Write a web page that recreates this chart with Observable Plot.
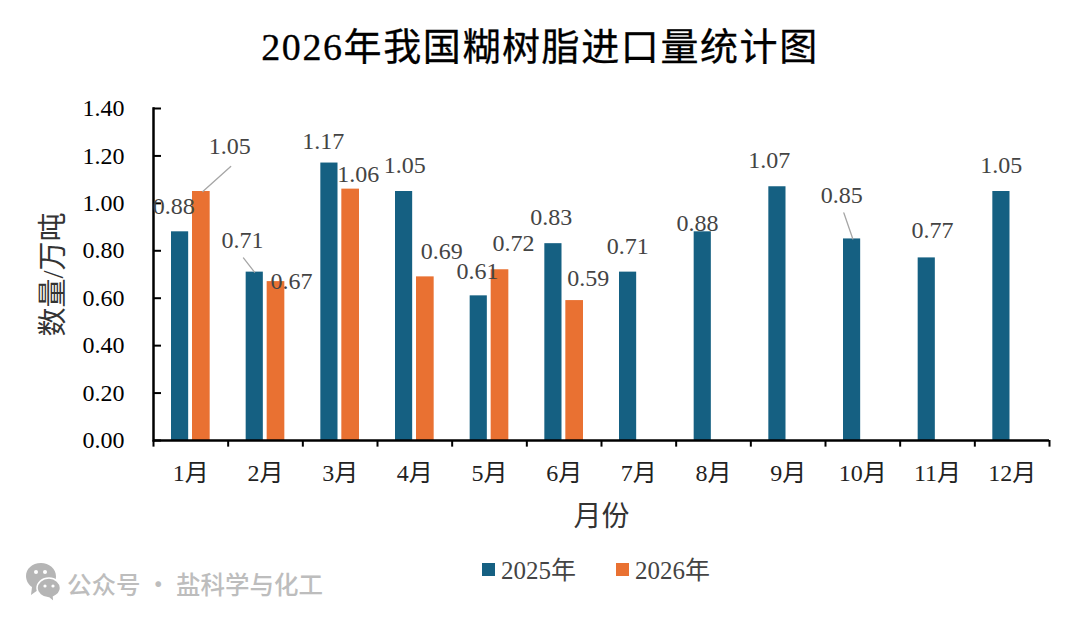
<!DOCTYPE html>
<html><head><meta charset="utf-8">
<script src="https://cdn.jsdelivr.net/npm/d3@7"></script>
<script src="https://cdn.jsdelivr.net/npm/@observablehq/plot@0.6"></script>
<style>
html,body{margin:0;padding:0;background:#fff;width:1080px;height:631px;overflow:hidden;position:relative}
#title{position:absolute;left:0;width:1080px;top:16px;text-align:center;font:38px "Liberation Serif","Noto Sans CJK SC";color:#000;letter-spacing:1.6px;-webkit-text-stroke:.3px #000}
#chart{position:absolute;left:0;top:0}
.lg{position:absolute;top:550px;font:25px "Liberation Serif","Noto Sans CJK SC";color:#444;white-space:nowrap}
.key{position:absolute;top:563px;width:13px;height:13px}
#wm{position:absolute;left:67px;top:566px;font:500 24.5px "Noto Sans CJK SC";color:#bdbdbd;white-space:nowrap}
#icon{position:absolute;left:25px;top:561px}
</style></head><body>
<div id="chart"></div>
<div id="title">2026年我国糊树脂进口量统计图</div>
<div class="key" style="left:482px;background:#156082"></div><div class="lg" style="left:501px">2025年</div>
<div class="key" style="left:616px;background:#E97132"></div><div class="lg" style="left:635px">2026年</div>
<svg id="icon" width="38" height="44" viewBox="0 0 38 44"><path d="M16 2C7 2 1 8 1 15c0 5 3 9 6 11l-1 8 7-5c1 0 2 .5 3 .5 8 0 15-6 15-14S24 2 16 2z" fill="#b5b5b5"/><path d="M24 17c-7 0-12 5-12 10s5 10 12 10l5 4-.5-5c4-2 7-5 7-9 0-5-5-10-11.500-10z" fill="#b5b5b5" stroke="#fff" stroke-width="1.500"/><circle cx="11" cy="11" r="2" fill="#fff"/><circle cx="20" cy="11" r="2" fill="#fff"/><circle cx="20" cy="25" r="1.600" fill="#fff"/><circle cx="28" cy="25" r="1.600" fill="#fff"/></svg>
<div id="wm">公众号 · 盐科学与化工</div>
<script>
const months=["1月","2月","3月","4月","5月","6月","7月","8月","9月","10月","11月","12月"];
const y2025=[0.88,0.71,1.17,1.05,0.61,0.83,0.71,0.88,1.07,0.85,0.77,1.05];
const y2026=[1.05,0.67,1.06,0.69,0.72,0.59];
const yTicks=[0,0.2,0.4,0.6,0.8,1.0,1.2,1.4];
const rows25=y2025.map((v,i)=>({m:months[i],s:"2025年",v}));
const rows26=y2026.map((v,i)=>({m:months[i],s:"2026年",v}));
const font='"Liberation Serif","Noto Sans CJK SC",serif';
const off25=[[-17,-26],[-23,-32],[-17,-22],[-10,-26],[-12,-25],[-13,-26],[-11,-26],[-16,-9],[-19,-26],[-21,-44],[-5,-28],[-11,-26]];
const off26=[[39,-45],[26,0],[18,-15],[27,-26],[24,-26],[24,-22]];
const labels=(rows,off)=>rows.map((d,i)=>Plot.text([d],{x:"m",y:"v",text:d=>d.v.toFixed(2),dx:off[i][0],dy:off[i][1],fontSize:24,fill:"#444"}));
const lineShape={draw(c,l){c.moveTo(0,0);c.lineTo(0,-l);}};
const leader=(d,dx,length,rotate)=>Plot.vector([d],{x:"m",y:"v",dx,length,rotate,anchor:"start",shape:lineShape,stroke:"#a6a6a6",strokeWidth:1.3});
const step=(1080-153-31)/12;
const p=Plot.plot({width:1080,height:631,marginLeft:153,marginRight:31,marginTop:108,marginBottom:191,
 style:{fontFamily:font,fontSize:"24px",background:"transparent"},
 x:{domain:months,padding:0,round:false,label:null},
 y:{domain:[0,1.4],label:null},
 length:{type:"identity"},
 color:{domain:["2025年","2026年"],range:["#156082","#E97132"]},
 marks:[
  Plot.barY(rows25,{x:"m",y:"v",fill:"s",insetLeft:18,insetRight:39.5}),
  Plot.barY(rows26,{x:"m",y:"v",fill:"s",insetLeft:39,insetRight:18}),
  Plot.ruleY([0],{stroke:"#000",strokeWidth:2.5}),
  Plot.frame({anchor:"left",stroke:"#000",strokeWidth:2.5}),
  Plot.ruleX(months,{x:d=>d,y1:()=>0,y2:()=>-0.028,dx:-step/2,stroke:"#000",strokeWidth:2}),
  Plot.ruleX(months.slice(-1),{x:d=>d,y1:()=>0,y2:()=>-0.028,dx:step/2,stroke:"#000",strokeWidth:2}),
  Plot.axisY({ticks:yTicks,tickFormat:d=>d.toFixed(2),tickSize:-8,tickPadding:37,stroke:"#000",strokeWidth:2,fill:"#000",fontSize:24,label:null}),
  Plot.axisX({tickSize:0,tickPadding:23,fontSize:24,fill:"#222",label:null}),
  Plot.text(["月份"],{frameAnchor:"bottom",dy:85,fontSize:28,fill:"#333"}),
  Plot.text(["数量/万吨"],{frameAnchor:"left",textAnchor:"middle",dx:-100,rotate:-90,fontSize:29,fill:"#333"}),
  leader(rows26[0],12,37.5,48),
  leader(rows25[1],-11,18,-38),
  leader(rows25[9],-10,27.5,-19),
  ...labels(rows25,off25),
  ...labels(rows26,off26)
 ]});
document.getElementById("chart").appendChild(p);
</script></body></html>
